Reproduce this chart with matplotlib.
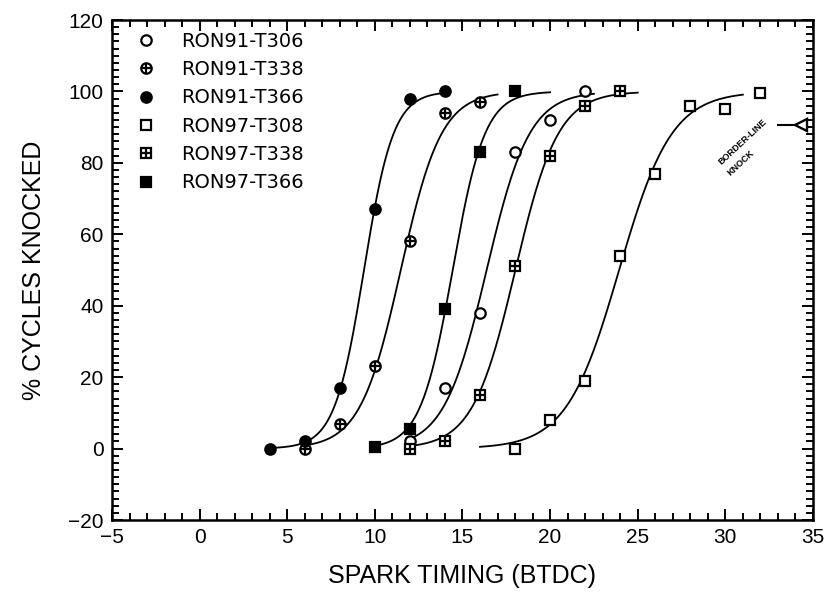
import numpy as np
import matplotlib
matplotlib.use("Agg")
import matplotlib.pyplot as plt
from matplotlib.ticker import MultipleLocator

plt.rcParams.update({
    'font.family': ['Liberation Sans', 'DejaVu Sans'],
    'axes.linewidth': 1.8,
})

# data: spark timing (BTDC) vs % cycles knocked
t366_91_x = [4, 6, 8, 10, 12, 14]
t366_91_y = [0, 2, 17, 67, 98, 100]

t338_91_x = [6, 8, 10, 12, 14, 16]
t338_91_y = [0, 7, 23, 58, 94, 97]

t366_97_x = [10, 12, 14, 16, 18]
t366_97_y = [0.5, 5.5, 39, 83, 100]

t306_91_x = [12, 14, 16, 18, 20, 22]
t306_91_y = [2, 17, 38, 83, 92, 100]

t338_97_x = [12, 14, 16, 18, 20, 22, 24]
t338_97_y = [0, 2, 15, 51, 82, 96, 100]

t308_97_x = [18, 20, 22, 24, 26, 28, 30, 32]
t308_97_y = [0, 8, 19, 54, 77, 96, 95, 99.5]

# x-range covered by each fitted curve
curve_ranges = {
    'RON91-T366': (4, 14),
    'RON91-T338': (6, 17),
    'RON97-T366': (10, 20),
    'RON91-T306': (12, 22.5),
    'RON97-T338': (12, 25),
    'RON97-T308': (16, 31),
}

borderline_y = 90.5


def fit_logistic(x, y):
    # brute force least squares for y = 100 / (1 + exp(-(x - x0) / s))
    x = np.asarray(x, float)
    y = np.asarray(y, float)
    best = None
    for x0 in np.arange(x.min(), x.max(), 0.02):
        for s in np.arange(0.3, 3.0, 0.02):
            err = np.sum((100 / (1 + np.exp(-(x - x0) / s)) - y) ** 2)
            if best is None or err < best[0]:
                best = (err, x0, s)
    return best[1], best[2]


fig = plt.figure(figsize=(8.32, 6.09), dpi=100)
ax = fig.add_axes([0.1346, 0.1461, 0.8425, 0.8210])

series = [
    ('RON91-T306', t306_91_x, t306_91_y, 'o', 'open'),
    ('RON91-T338', t338_91_x, t338_91_y, 'o', 'cross'),
    ('RON91-T366', t366_91_x, t366_91_y, 'o', 'filled'),
    ('RON97-T308', t308_97_x, t308_97_y, 's', 'open'),
    ('RON97-T338', t338_97_x, t338_97_y, 's', 'cross'),
    ('RON97-T366', t366_97_x, t366_97_y, 's', 'filled'),
]

handles = []
for name, xs, ys, mk, style in series:
    x0, s = fit_logistic(xs, ys)
    lo, hi = curve_ranges[name]
    xx = np.linspace(lo, hi, 200)
    ax.plot(xx, 100 / (1 + np.exp(-(xx - x0) / s)), color='black', lw=1.3, zorder=2)

    face = 'black' if style == 'filled' else 'white'
    h1, = ax.plot(xs, ys, ls='none', marker=mk, ms=7.5, mfc=face, mec='black',
                  mew=1.6, zorder=3)
    if style == 'cross':
        h2, = ax.plot(xs, ys, ls='none', marker='+', ms=7, mec='black',
                      mew=1.6, zorder=4)
        handles.append((h1, h2))
    else:
        handles.append(h1)

# border-line knock marker at the right edge
ax.plot([33.0, 34.0], [borderline_y, borderline_y], color='black', lw=1.5)
ax.plot([34.3], [borderline_y], ls='none', marker='<', ms=9, mfc='white',
        mec='black', mew=1.7, zorder=5, clip_on=False)
ax.text(31.0, 85.8, 'BORDER-LINE', rotation=43, fontsize=6.5, fontweight='bold',
        ha='center', va='center')
ax.text(30.9, 80.0, 'KNOCK', rotation=43, fontsize=6.5, fontweight='bold',
        ha='center', va='center')

leg = ax.legend(handles, [s[0] for s in series], loc='upper left',
                bbox_to_anchor=(0.018, 1.0), frameon=False,
                prop={'family': 'DejaVu Sans', 'size': 14},
                handlelength=1.0, handletextpad=1.3, labelspacing=0.48,
                borderaxespad=0.2)

ax.set_xlim(-5, 35)
ax.set_ylim(-20, 120)
ax.xaxis.set_major_locator(MultipleLocator(5))
ax.xaxis.set_minor_locator(MultipleLocator(1))
ax.yaxis.set_major_locator(MultipleLocator(20))
ax.yaxis.set_minor_locator(MultipleLocator(2))
ax.tick_params(which='both', direction='in', top=True, right=True, width=1.4)
ax.tick_params(which='major', length=8, labelsize=15, pad=6)
ax.tick_params(which='minor', length=5)
ax.set_xticks(ax.get_xticks())
ax.set_xticklabels([f'{int(v)}'.replace('-', '\u2212') for v in ax.get_xticks()])

ax.set_xlabel('SPARK TIMING (BTDC)', fontsize=18, labelpad=12)
ax.set_ylabel('% CYCLES KNOCKED', fontsize=18, labelpad=16)
ax.set_xlim(-5, 35)

fig.savefig('out.png', dpi=100)
